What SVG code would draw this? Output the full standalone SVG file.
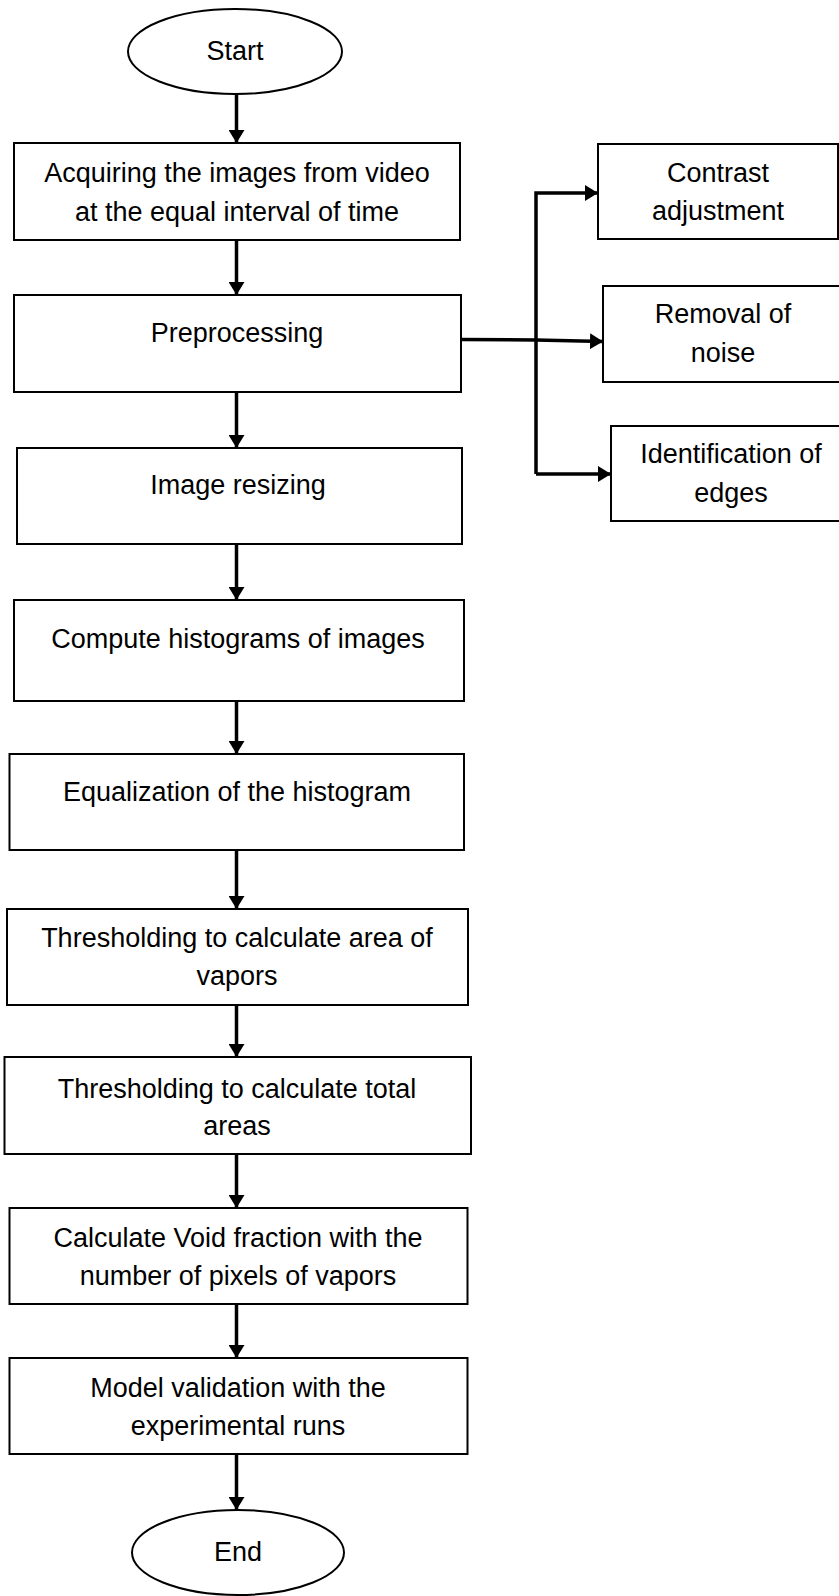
<svg xmlns="http://www.w3.org/2000/svg" width="839" height="1596" viewBox="0 0 839 1596">
<style>
.box{fill:#fff;stroke:#000;stroke-width:2}
.t{font-family:"Liberation Sans",Arial,sans-serif;font-size:27px;fill:#000;text-anchor:middle}
.c{fill:none;stroke:#000;stroke-width:3.5}
</style>
<defs>
<marker id="ah" markerUnits="userSpaceOnUse" markerWidth="13" markerHeight="16" refX="13" refY="8" orient="auto">
<path d="M0,0 L13,8 L0,16 z" fill="#000"/>
</marker>
</defs>
<rect width="839" height="1596" fill="#fff"/>
<g id="connectors">
<path class="c" d="M236.5,94 V143" marker-end="url(#ah)"/>
<path class="c" d="M236.5,240 V295" marker-end="url(#ah)"/>
<path class="c" d="M236.5,392 V448" marker-end="url(#ah)"/>
<path class="c" d="M236.5,544 V600" marker-end="url(#ah)"/>
<path class="c" d="M236.5,701 V754" marker-end="url(#ah)"/>
<path class="c" d="M236.5,850 V909" marker-end="url(#ah)"/>
<path class="c" d="M236.5,1002 V1057" marker-end="url(#ah)"/>
<path class="c" d="M236.5,1154 V1208" marker-end="url(#ah)"/>
<path class="c" d="M236.5,1304 V1358" marker-end="url(#ah)"/>
<path class="c" d="M236.5,1454 V1510" marker-end="url(#ah)"/>
<path class="c" d="M461,339.5 L536,340 L603,341.5" marker-end="url(#ah)"/>
<path class="c" d="M536,474 V193 H598" marker-end="url(#ah)"/>
<path class="c" d="M536,474 H611" marker-end="url(#ah)"/>
</g>
<g id="start">
<ellipse class="box" cx="235" cy="51.5" rx="107" ry="42.5"/>
<text class="t" x="235" y="60">Start</text>
</g>
<g id="acquire">
<rect class="box" x="14" y="143" width="446" height="97"/>
<text class="t" x="237" y="182">Acquiring the images from video</text>
<text class="t" x="237" y="221">at the equal interval of time</text>
</g>
<g id="preprocessing">
<rect class="box" x="14" y="295" width="447" height="97"/>
<text class="t" x="237" y="342">Preprocessing</text>
</g>
<g id="contrast">
<rect class="box" x="598" y="144" width="240" height="95"/>
<text class="t" x="718" y="182">Contrast</text>
<text class="t" x="718" y="220">adjustment</text>
</g>
<g id="noise">
<rect class="box" x="603" y="286" width="242" height="96"/>
<text class="t" x="723" y="323">Removal of</text>
<text class="t" x="723" y="362">noise</text>
</g>
<g id="edges">
<rect class="box" x="611" y="426" width="240" height="95"/>
<text class="t" x="731" y="463">Identification of</text>
<text class="t" x="731" y="502">edges</text>
</g>
<g id="resize">
<rect class="box" x="17" y="448" width="445" height="96"/>
<text class="t" x="238" y="494">Image resizing</text>
</g>
<g id="histograms">
<rect class="box" x="14" y="600" width="450" height="101"/>
<text class="t" x="238" y="648">Compute histograms of images</text>
</g>
<g id="equalization">
<rect class="box" x="9.5" y="754" width="454.5" height="96"/>
<text class="t" x="237" y="801">Equalization of the histogram</text>
</g>
<g id="thresh-vapor">
<rect class="box" x="7" y="909" width="461" height="96"/>
<text class="t" x="237" y="947">Thresholding to calculate area of</text>
<text class="t" x="237" y="985">vapors</text>
</g>
<g id="thresh-total">
<rect class="box" x="4.5" y="1057" width="466.5" height="97"/>
<text class="t" x="237" y="1098">Thresholding to calculate total</text>
<text class="t" x="237" y="1135">areas</text>
</g>
<g id="void">
<rect class="box" x="9.5" y="1208" width="458" height="96"/>
<text class="t" x="238" y="1247">Calculate Void fraction with the</text>
<text class="t" x="238" y="1285">number of pixels of vapors</text>
</g>
<g id="validation">
<rect class="box" x="9.5" y="1358" width="458" height="96"/>
<text class="t" x="238" y="1397">Model validation with the</text>
<text class="t" x="238" y="1435">experimental runs</text>
</g>
<g id="end">
<ellipse class="box" cx="238" cy="1552.5" rx="106" ry="42.5"/>
<text class="t" x="238" y="1561">End</text>
</g>
</svg>
